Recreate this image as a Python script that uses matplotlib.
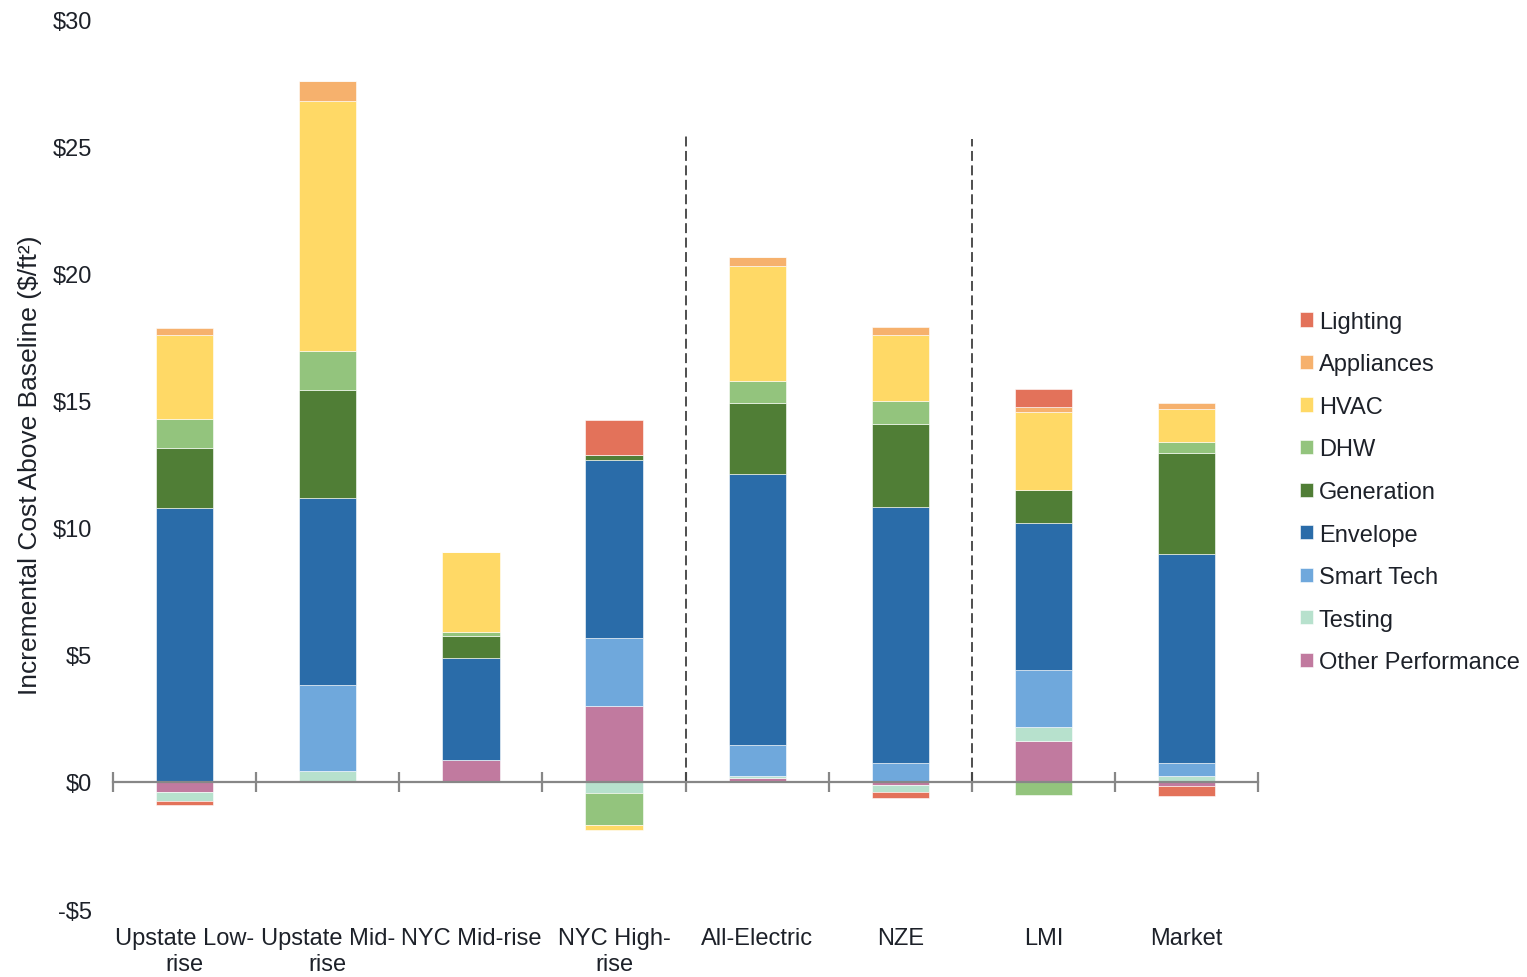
import numpy as np
import matplotlib
matplotlib.use('Agg')
from matplotlib import pyplot as plt
from matplotlib import transforms

plt.rcParams['font.family'] = ['Liberation Sans', 'DejaVu Sans']

# incremental cost per component ($/ft2), stacked bottom to top
categories = ['Upstate Low-\nrise', 'Upstate Mid-\nrise', 'NYC Mid-rise', 'NYC High-\nrise',
              'All-Electric', 'NZE', 'LMI', 'Market']

other_perf = [-0.41, 0.00, 0.88, 2.98, 0.15, -0.12, 1.59, -0.16]
testing = [-0.35, 0.41, 0.00, -0.45, 0.07, -0.29, 0.56, 0.24]
smart_tech = [0.00, 3.40, 0.00, 2.68, 1.22, 0.74, 2.26, 0.50]
envelope = [10.79, 7.36, 3.99, 6.99, 10.67, 10.09, 5.76, 8.22]
generation = [2.34, 4.26, 0.87, 0.20, 2.78, 3.23, 1.31, 3.96]
dhw = [1.15, 1.50, 0.15, -1.23, 0.89, 0.90, -0.50, 0.46]
hvac = [3.30, 9.83, 3.17, -0.20, 4.51, 2.60, 3.08, 1.29]
appliances = [0.28, 0.79, 0.00, 0.00, 0.36, 0.32, 0.18, 0.25]
lighting = [-0.14, 0.00, 0.00, 1.38, 0.00, -0.23, 0.71, -0.39]

series = [
    ('Other Performance', other_perf, '#C17A9F'),
    ('Testing', testing, '#B7E1CD'),
    ('Smart Tech', smart_tech, '#6FA8DC'),
    ('Envelope', envelope, '#2A6CA9'),
    ('Generation', generation, '#507E36'),
    ('DHW', dhw, '#93C47D'),
    ('HVAC', hvac, '#FFD966'),
    ('Appliances', appliances, '#F6B16D'),
    ('Lighting', lighting, '#E3725A'),
]

# group separators: (position between categories, height)
separators = [(3.5, 25.5), (5.5, 25.3)]

yticks = [-5, 0, 5, 10, 15, 20, 25, 30]
ytick_labels = ['-$5', '$0', '$5', '$10', '$15', '$20', '$25', '$30']

text_color = '#1d2129'
axis_color = '#878787'

fig = plt.figure(figsize=(15.27, 9.78), dpi=100)
ax = fig.add_axes([0.074, 0.0695, 0.750, 0.910])

x = np.arange(len(categories))
pos_base = np.zeros(len(categories))
neg_base = np.zeros(len(categories))
handles = []
for name, vals, color in series:
    vals = np.array(vals)
    bottom = np.where(vals >= 0, pos_base, neg_base)
    bars = ax.bar(x, vals, 0.40, bottom=bottom, color=color,
                  edgecolor='white', linewidth=0.4, label=name)
    handles.append(bars)
    pos_base = pos_base + np.clip(vals, 0, None)
    neg_base = neg_base + np.clip(vals, None, 0)

for xs, top in separators:
    ax.vlines(xs, 0, top, colors='#404040', linewidth=1.3, linestyles=(0, (5.5, 2.5)))

ax.set_xlim(-0.5, len(categories) - 0.5)
ax.set_ylim(-5, 30)

ax.set_yticks(yticks)
ax.set_yticklabels(ytick_labels, fontsize=17, color=text_color)
ax.tick_params(axis='y', length=0, pad=15)

# horizontal axis sits on zero with ticks between the categories
ax.spines['bottom'].set_position(('data', 0))
ax.spines['bottom'].set_color(axis_color)
ax.spines['bottom'].set_linewidth(1.6)
for s in ['left', 'top', 'right']:
    ax.spines[s].set_visible(False)
ax.set_xticks(x)
ax.set_xticklabels([])
ax.tick_params(axis='x', which='major', length=0)
ax.set_xticks(np.arange(len(categories) + 1) - 0.5, minor=True)
ax.tick_params(axis='x', which='minor', direction='inout', length=14, width=1.6, color=axis_color)

trans = transforms.blended_transform_factory(ax.transData, ax.transAxes)
for i, lab in enumerate(categories):
    ax.text(i, -0.020, lab, transform=trans, ha='center', va='top',
            fontsize=17, color=text_color, linespacing=1.22)

fig.text(30 / 1527, 0.5245, 'Incremental Cost Above Baseline ($/ft\u00b2)', rotation=90,
         ha='center', va='center', fontsize=19, color=text_color)

fig.legend(handles[::-1], [s[0] for s in series][::-1], loc='center left',
           bbox_to_anchor=(0.8513, 0.4959), frameon=False, fontsize=17,
           handlelength=0.55, handleheight=0.55, handletextpad=0.25,
           labelspacing=0.87, borderpad=0, borderaxespad=0, labelcolor=text_color)

fig.savefig('out.png', dpi=100)
